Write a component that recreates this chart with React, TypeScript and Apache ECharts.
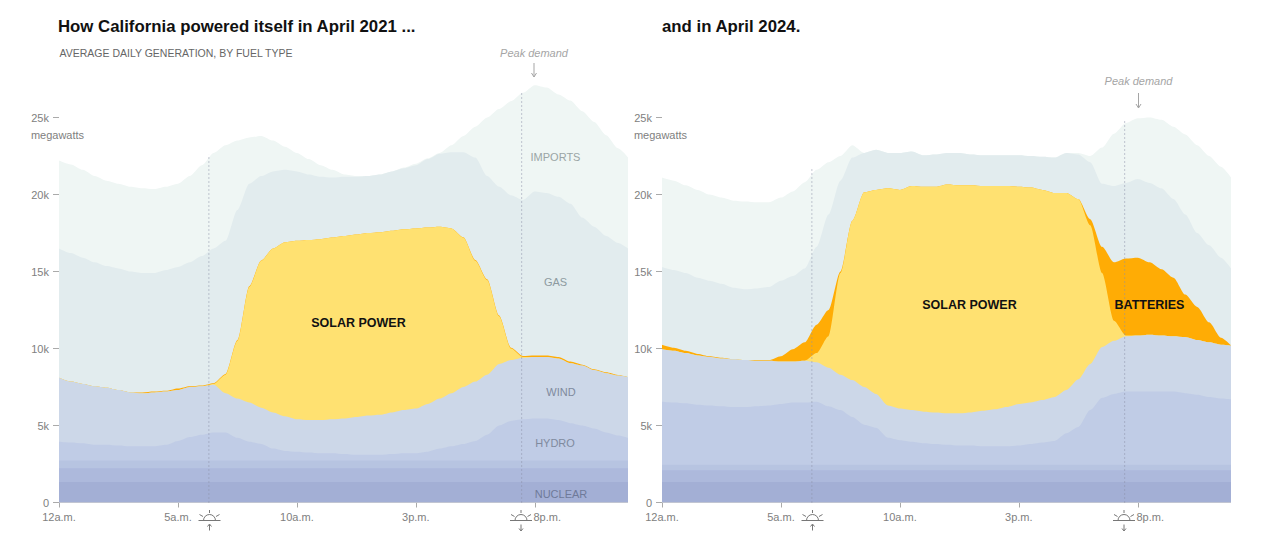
import React, { useEffect, useRef } from "react";
import * as echarts from "echarts";

// Hours of the day for every reading.
const hours = [0,0.5,1,1.5,2,2.5,3,3.5,4,4.5,5,5.5,6,6.5,7,7.5,8,8.5,9,9.5,10,10.5,11,11.5,12,12.5,13,13.5,14,14.5,15,15.5,16,16.5,17,17.5,18,18.5,19,19.5,20,20.5,21,21.5,22,22.5,23,23.5,23.92];

// Upper edge of every band, in thousands of megawatts, April 2021.
const nuclearTop21 = [1.33,1.33,1.33,1.33,1.33,1.33,1.33,1.33,1.33,1.33,1.33,1.33,1.33,1.33,1.33,1.33,1.33,1.33,1.33,1.33,1.33,1.33,1.33,1.33,1.33,1.33,1.33,1.33,1.33,1.33,1.33,1.33,1.33,1.33,1.33,1.33,1.33,1.33,1.33,1.33,1.33,1.33,1.33,1.33,1.33,1.33,1.33,1.33,1.33];
const geothermalTop21 = [2.23,2.23,2.23,2.23,2.23,2.23,2.23,2.23,2.23,2.23,2.23,2.23,2.23,2.23,2.23,2.23,2.23,2.23,2.23,2.23,2.23,2.23,2.23,2.23,2.23,2.23,2.23,2.23,2.23,2.23,2.23,2.23,2.23,2.23,2.23,2.23,2.23,2.23,2.23,2.23,2.23,2.23,2.23,2.23,2.23,2.23,2.23,2.23,2.23];
const biomassTop21 = [2.72,2.72,2.72,2.72,2.72,2.72,2.72,2.72,2.72,2.72,2.72,2.72,2.72,2.72,2.72,2.72,2.72,2.72,2.72,2.72,2.72,2.72,2.72,2.72,2.72,2.72,2.72,2.72,2.72,2.72,2.72,2.72,2.72,2.72,2.72,2.72,2.72,2.72,2.72,2.72,2.72,2.72,2.72,2.72,2.72,2.72,2.72,2.72,2.72];
const hydroTop21 = [3.95,3.9,3.85,3.75,3.75,3.7,3.65,3.65,3.65,3.75,4,4.25,4.4,4.55,4.55,4.2,3.95,3.8,3.5,3.35,3.3,3.25,3.2,3.2,3.15,3.1,3.1,3.1,3.15,3.2,3.2,3.3,3.5,3.65,3.8,4,4.4,5,5.3,5.4,5.45,5.45,5.35,5.15,5,4.8,4.55,4.35,4.2];
const windTop21 = [8.1,7.85,7.7,7.55,7.45,7.3,7.15,7.1,7.15,7.2,7.3,7.5,7.55,7.65,7.1,6.75,6.5,6.15,5.85,5.6,5.4,5.35,5.35,5.4,5.45,5.55,5.65,5.7,5.85,6,6.1,6.4,6.75,7.1,7.5,7.85,8.3,9,9.25,9.4,9.45,9.45,9.35,9.05,8.9,8.6,8.4,8.25,8.15];
const solarTop21 = [8.1,7.85,7.7,7.55,7.45,7.3,7.15,7.1,7.15,7.2,7.3,7.5,7.55,7.7,8.3,10.5,14,15.7,16.5,16.9,17,17.05,17.1,17.2,17.3,17.4,17.5,17.55,17.65,17.75,17.8,17.85,17.9,17.8,17.2,15.7,14.45,12.1,10,9.45,9.45,9.45,9.35,9.05,8.9,8.6,8.4,8.25,8.15];
const batteriesTop21 = [8.1,7.85,7.7,7.55,7.45,7.3,7.15,7.15,7.2,7.25,7.4,7.55,7.6,7.75,8.35,10.55,14.05,15.72,16.5,16.9,17,17.05,17.1,17.2,17.3,17.4,17.5,17.55,17.65,17.75,17.8,17.85,17.9,17.8,17.22,15.75,14.5,12.15,10.05,9.52,9.55,9.55,9.45,9.15,8.95,8.65,8.45,8.28,8.15];
const gasTop21 = [16.5,16.2,15.9,15.6,15.35,15.2,15,14.9,14.9,15.1,15.3,15.6,16,16.5,17,19,20.7,21.2,21.5,21.6,21.5,21.3,21.15,21.1,21.15,21.15,21.2,21.3,21.5,21.7,21.9,22.3,22.65,22.75,22.75,22.4,21.2,20.5,19.95,19.65,20.2,20.1,19.85,19.4,18.5,17.9,17.3,16.85,16.5];
const importsTop21 = [22.2,21.95,21.6,21.2,20.9,20.7,20.5,20.4,20.35,20.5,20.7,21.2,21.9,22.7,23.2,23.5,23.7,23.8,23.5,23.1,22.7,22.3,21.9,21.6,21.3,21.2,21.2,21.3,21.5,21.75,22,22.35,22.7,23.2,23.8,24.4,25,25.55,26.05,26.6,27.1,26.95,26.5,26.1,25.4,24.7,23.85,23,22.4];

// Upper edge of every band, in thousands of megawatts, April 2024.
const nuclearTop24 = [1.33,1.33,1.33,1.33,1.33,1.33,1.33,1.33,1.33,1.33,1.33,1.33,1.33,1.33,1.33,1.33,1.33,1.33,1.33,1.33,1.33,1.33,1.33,1.33,1.33,1.33,1.33,1.33,1.33,1.33,1.33,1.33,1.33,1.33,1.33,1.33,1.33,1.33,1.33,1.33,1.33,1.33,1.33,1.33,1.33,1.33,1.33,1.33,1.33];
const geothermalTop24 = [2.1,2.1,2.1,2.1,2.1,2.1,2.1,2.1,2.1,2.1,2.1,2.1,2.1,2.1,2.1,2.1,2.1,2.1,2.1,2.1,2.1,2.1,2.1,2.1,2.1,2.1,2.1,2.1,2.1,2.1,2.1,2.1,2.1,2.1,2.1,2.1,2.1,2.1,2.1,2.1,2.1,2.1,2.1,2.1,2.1,2.1,2.1,2.1,2.1];
const biomassTop24 = [2.45,2.45,2.45,2.45,2.45,2.45,2.45,2.45,2.45,2.45,2.45,2.45,2.45,2.45,2.45,2.45,2.45,2.45,2.45,2.45,2.45,2.45,2.45,2.45,2.45,2.45,2.45,2.45,2.45,2.45,2.45,2.45,2.45,2.45,2.45,2.45,2.45,2.45,2.45,2.45,2.45,2.45,2.45,2.45,2.45,2.45,2.45,2.45,2.45];
const hydroTop24 = [6.55,6.5,6.45,6.35,6.3,6.25,6.2,6.2,6.25,6.3,6.4,6.5,6.5,6.55,6.25,6,5.55,5.05,4.85,4.2,4.05,3.95,3.85,3.8,3.75,3.7,3.7,3.65,3.65,3.65,3.7,3.8,3.9,4,4.5,4.9,6,6.8,7.05,7.2,7.2,7.2,7.2,7.2,7.1,7,6.85,6.75,6.7];
const windTop24 = [9.95,9.85,9.7,9.55,9.45,9.35,9.3,9.25,9.2,9.2,9.15,9.15,9.2,9.1,8.75,8.3,7.95,7.5,7.05,6.3,6.1,6,5.9,5.85,5.8,5.8,5.85,5.95,6.05,6.2,6.4,6.5,6.65,6.85,7.3,8,9,10.1,10.5,10.8,10.85,10.9,10.85,10.8,10.75,10.55,10.4,10.25,10.2];
const solarTop24 = [9.95,9.85,9.7,9.55,9.45,9.35,9.3,9.25,9.2,9.2,9.15,9.15,9.2,9.7,10.8,14.9,18.3,20.15,20.3,20.4,20.3,20.55,20.5,20.5,20.65,20.6,20.6,20.55,20.55,20.55,20.5,20.45,20.3,20.1,20.1,19.7,18,14.9,11.8,10.85,10.85,10.9,10.85,10.8,10.75,10.55,10.4,10.25,10.2];
const batteriesTop24 = [10.25,10.05,9.85,9.65,9.5,9.4,9.3,9.25,9.25,9.25,9.5,9.95,10.4,11.55,12.5,15,18.3,20.15,20.3,20.4,20.3,20.55,20.5,20.5,20.65,20.6,20.6,20.55,20.55,20.55,20.5,20.45,20.3,20.1,20.1,19.7,18.4,16.6,15.6,15.85,15.9,15.6,15.15,14.6,13.5,12.7,11.7,10.7,10.2];
const gasTop24 = [15.3,15.1,14.9,14.6,14.4,14.2,13.95,13.85,13.9,14,14.4,14.7,15.2,16.6,18.7,20.9,22.4,22.7,22.9,22.7,22.7,22.8,22.55,22.6,22.7,22.7,22.6,22.55,22.55,22.55,22.55,22.5,22.45,22.4,22.7,22.6,22.1,20.7,20.55,20.75,21,20.75,20.4,19.7,18.7,17.5,16.7,15.9,15.2];
const importsTop24 = [21.1,20.9,20.6,20.3,20,19.8,19.6,19.55,19.5,19.5,19.8,20.2,20.8,21.6,22.1,22.5,23.2,22.7,22.9,22.7,22.7,22.8,22.55,22.6,22.7,22.7,22.6,22.55,22.55,22.55,22.55,22.5,22.45,22.4,22.7,22.7,22.5,23.05,23.95,24.65,24.95,25,24.85,24.4,23.9,23.2,22.5,21.8,21.1];

const yTicks = [0, 5000, 10000, 15000, 20000, 25000];
const xTicks = [0, 5, 10, 15, 20];
const xTickNames: Record<number, string> = { 0: "12a.m.", 5: "5a.m.", 10: "10a.m.", 15: "3p.m.", 20: "8p.m." };

const fuels = ["Nuclear", "Geothermal", "Biomass", "Hydro", "Wind", "Solar power", "Batteries", "Gas", "Imports"];
const fuelColors = ["#a3afd5", "#adb9dc", "#b7c4e1", "#c0cce6", "#ccd7e8", "#ffe171", "#ffac05", "#e2ecee", "#eff6f4"];
const tops21 = [nuclearTop21, geothermalTop21, biomassTop21, hydroTop21, windTop21, solarTop21, batteriesTop21, gasTop21, importsTop21];
const tops24 = [nuclearTop24, geothermalTop24, biomassTop24, hydroTop24, windTop24, solarTop24, batteriesTop24, gasTop24, importsTop24];

// Sunrise and sunset markers: [hour, top of the dotted line in MW].
const sunLines21 = [[6.3, 22600], [19.45, 26700]];
const sunLines24 = [[6.3, 21800], [19.45, 24900]];

const FONT = "'Liberation Sans', Arial, sans-serif";
const GRAY = "#808080";

// Each band is an area from zero up to its own upper edge; the tallest is painted first.
function bandSeries(tops: number[][], axis: number) {
  return tops
    .map((top, i) => ({
      name: fuels[i],
      type: "line",
      xAxisIndex: axis,
      yAxisIndex: axis,
      symbol: "none",
      smooth: 0.25,
      smoothMonotone: "x",
      lineStyle: { width: 0 },
      itemStyle: { color: fuelColors[i] },
      areaStyle: { color: fuelColors[i], opacity: 1, origin: 0 },
      silent: true,
      data: hours.map((h, k) => [h, Math.round(top[k] * 1000)]),
    }))
    .reverse();
}

function sunLineSeries(lines: number[][], axis: number) {
  return lines.map((l) => ({
    type: "line",
    xAxisIndex: axis,
    yAxisIndex: axis,
    symbol: "none",
    silent: true,
    z: 5,
    lineStyle: { color: "#8b90a6", width: 1, type: [1, 3] },
    data: [[l[0], 0], [l[0], l[1]]],
  }));
}

function xAxis(gridIndex: number) {
  return {
    type: "value",
    gridIndex,
    min: 0,
    max: 23.92,
    splitLine: { show: false },
    axisLine: { show: false },
    axisTick: { show: true, length: 5, lineStyle: { color: "#aaa" }, customValues: xTicks },
    axisLabel: {
      show: true,
      customValues: xTicks,
      margin: 9,
      color: GRAY,
      fontFamily: FONT,
      fontSize: 11,
      formatter: (v: number) => (v === 20 ? `{shift|${xTickNames[v]}}` : xTickNames[v] ?? ""),
      rich: { shift: { padding: [0, 0, 0, 25], color: GRAY, fontFamily: FONT, fontSize: 11 } },
    },
  };
}

function yAxis(gridIndex: number) {
  return {
    type: "value",
    gridIndex,
    min: 0,
    max: 30000,
    splitLine: { show: false },
    axisLine: { show: false },
    axisTick: { show: true, length: 6, lineStyle: { color: "#aaa" }, customValues: yTicks },
    axisLabel: {
      show: true,
      customValues: yTicks,
      margin: 10,
      color: GRAY,
      fontFamily: FONT,
      fontSize: 11,
      formatter: (v: number) => (v === 0 ? "0" : `${v / 1000}k`),
    },
  };
}

const stroke = { stroke: "#777", lineWidth: 1, fill: "none" };

function sunIcon(cx: number, rising: boolean) {
  const y = 520.5;
  return {
    type: "group",
    silent: true,
    children: [
      { type: "line", shape: { x1: cx - 11, y1: y, x2: cx + 11, y2: y }, style: stroke },
      { type: "arc", shape: { cx, cy: y, r: 6, startAngle: Math.PI, endAngle: 2 * Math.PI }, style: stroke },
      { type: "line", shape: { x1: cx, y1: y - 10.5, x2: cx, y2: y - 7.5 }, style: stroke },
      { type: "line", shape: { x1: cx - 10, y1: y - 6, x2: cx - 6.5, y2: y - 4 }, style: stroke },
      { type: "line", shape: { x1: cx + 10, y1: y - 6, x2: cx + 6.5, y2: y - 4 }, style: stroke },
      { type: "line", shape: { x1: cx, y1: y + 4, x2: cx, y2: y + 10 }, style: stroke },
      {
        type: "polyline",
        shape: {
          points: rising
            ? [[cx - 2, y + 6], [cx, y + 3.5], [cx + 2, y + 6]]
            : [[cx - 2, y + 8], [cx, y + 10.5], [cx + 2, y + 8]],
        },
        style: stroke,
      },
    ],
  };
}

function peakNote(cx: number, textY: number, y1: number, y2: number) {
  const s = { stroke: "#a5a5a5", lineWidth: 1, fill: "none" };
  return {
    type: "group",
    silent: true,
    children: [
      {
        type: "text",
        x: cx,
        y: textY,
        style: { text: "Peak demand", fill: "#a5a5a5", font: `italic 11px ${FONT}`, align: "center", verticalAlign: "middle" },
      },
      { type: "line", shape: { x1: cx, y1, x2: cx, y2 }, style: s },
      { type: "polyline", shape: { points: [[cx - 2.5, y2 - 4], [cx, y2], [cx + 2.5, y2 - 4]] }, style: s },
    ],
  };
}

function label(text: string, x: number, y: number, fill: string, font = `11px ${FONT}`) {
  return { type: "text", x, y, silent: true, z: 20, style: { text, fill, font, align: "center", verticalAlign: "middle" } };
}

export default function App() {
  const ref = useRef<HTMLDivElement>(null);
  useEffect(() => {
    const chart = echarts.init(ref.current!, null, { renderer: "svg" });
    const headline = { fontFamily: FONT, fontSize: 16.8, fontWeight: "bold", color: "#111" };
    chart.setOption({
      animation: false,
      backgroundColor: "#fff",
      title: [
        { text: "How California powered itself in April 2021 ...", left: 58, top: 18, padding: 0, textStyle: headline },
        { text: "and in April 2024.", left: 662, top: 18, padding: 0, textStyle: headline },
      ],
      grid: [
        { left: 59, top: 40.5, width: 569, height: 462 },
        { left: 662, top: 40.5, width: 569, height: 462 },
      ],
      xAxis: [xAxis(0), xAxis(1)],
      yAxis: [yAxis(0), yAxis(1)],
      series: [
        ...bandSeries(tops21, 0),
        ...bandSeries(tops24, 1),
        ...sunLineSeries(sunLines21, 0),
        ...sunLineSeries(sunLines24, 1),
      ],
      graphic: [
        label("AVERAGE DAILY GENERATION, BY FUEL TYPE", 176, 53, "#666", `10.5px ${FONT}`),
        label("megawatts", 57.5, 135, GRAY),
        label("megawatts", 660.5, 135, GRAY),
        label("IMPORTS", 555.5, 157, "#9aa5a5"),
        label("GAS", 555.5, 282, "#8d9aa0"),
        label("WIND", 561, 392, "#7f8a9e"),
        label("HYDRO", 555, 443, "#7f8a9e"),
        label("NUCLEAR", 561, 494, "#6f7a99"),
        label("SOLAR POWER", 358.5, 323, "#111", `bold 12.5px ${FONT}`),
        label("SOLAR POWER", 969.5, 305, "#111", `bold 12.5px ${FONT}`),
        label("BATTERIES", 1149.5, 305, "#111", `bold 12.5px ${FONT}`),
        peakNote(534, 53, 63, 77),
        peakNote(1138.5, 81, 93, 108),
        sunIcon(209.5, true),
        sunIcon(521, false),
        sunIcon(812.5, true),
        sunIcon(1124, false),
      ],
    });
    return () => chart.dispose();
  }, []);
  return <div ref={ref} style={{ position: "absolute", left: 0, top: 0, width: 1265, height: 539 }} />;
}
